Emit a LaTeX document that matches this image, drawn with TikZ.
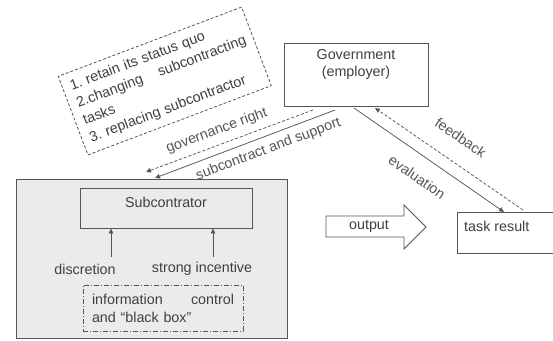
\documentclass[tikz,border=0pt]{standalone}
\usepackage{fontspec}
\setmainfont{Liberation Sans}
\usetikzlibrary{arrows.meta}
\definecolor{txt}{HTML}{3F3F3F}
\definecolor{ln}{HTML}{555555}
\definecolor{bg}{HTML}{EBEBEB}
\frenchspacing
\begin{document}
\begin{tikzpicture}[x=1pt,y=-1pt,
  font=\fontsize{14.3}{18}\selectfont, text=txt,
  box/.style={draw=ln, line width=0.8pt},
  tipped/.style={ln, line width=0.75pt, -{Triangle[length=5pt,width=4.5pt]}},
  dsh/.style={dash pattern=on 3pt off 2pt},
  dashdot/.style={dash pattern=on 5pt off 2pt on 1pt off 2pt},
  lbl/.style={font=\fontsize{14.3}{16}\selectfont, sloped}]
\useasboundingbox (0,0) rectangle (553,340);

% outer gray box
\node[box, fill=bg, minimum width=271pt, minimum height=159pt, inner sep=0pt] (outer) at (151.5,258.5) {};
% subcontractor
\node[box, fill=bg, minimum width=172pt, minimum height=40pt, inner sep=0pt] (sub) at (166,208) {};
\node (subt) at (166,202) {Subcontrator};
% factors
\node (disc) at (85,269) {discretion};
\node (inc) at (202,269) {strong incentive};
\coordinate (d1) at (111,257);
\coordinate (d2) at (213,257);
\draw[tipped] (d1) -- (d1 |- sub.south);
\draw[tipped] (d2) -- (d2 |- sub.south);
% information box
\node[box, dashdot, fill=bg, minimum width=160pt, minimum height=46pt, text width=142pt, align=left, inner sep=0pt] (info) at (163,308)
  {information\hfill control\\and “black box”};

% government
\node[box, minimum width=144pt, minimum height=63pt, inner sep=0pt] (gov) at (356,74.5) {};
\node[align=center, font=\fontsize{14.3}{17}\selectfont] (govt) at (356,64.5) {Government\\(employer)};

% task result
\node[box, minimum width=96pt, minimum height=41pt, inner sep=0pt] (task) at (505,232.5) {};
\node[anchor=west, inner sep=0pt] (taskt) at (464,226) {task result};

% output block arrow
\draw[ln, line width=0.8pt] (326,216) -- (404,216) -- (404,205) -- (426,227) -- (404,249) -- (404,237) -- (326,237) -- cycle;
\node (outt) at (369,226) {output};

% options box
\node[box, dsh, rotate=20.7, minimum width=196pt, minimum height=84pt, text width=180pt, align=left, inner sep=0pt,
      font=\fontsize{14.3}{18.5}\selectfont] (opts) at (164.75,81)
  {1. retain its status quo\\2.changing\hfill subcontracting\\tasks\\3. replacing subcontractor};

% connectors
\coordinate (g1) at (313,110);
\coordinate (o1) at (146,172);
\coordinate (g2) at (335,110);
\coordinate (o2) at (155,178);
\coordinate (g3) at (354,108);
\coordinate (t3) at (504,212);
\coordinate (t4) at (523,210);
\coordinate (g4) at (375,108);
\draw[tipped, dsh] (g1) -- node[lbl, pos=0.547, above=3.5pt] {governance right} (o1);
\draw[tipped] (g2) -- node[lbl, pos=0.396, below=3pt] {subcontract and support} (o2);
\draw[tipped] (g3) -- node[lbl, pos=0.5, below=12pt] {evaluation} (t3);
\draw[tipped, dsh] (t4) -- node[lbl, pos=0.513, above=15pt] {feedback} (g4);
\end{tikzpicture}
\end{document}
